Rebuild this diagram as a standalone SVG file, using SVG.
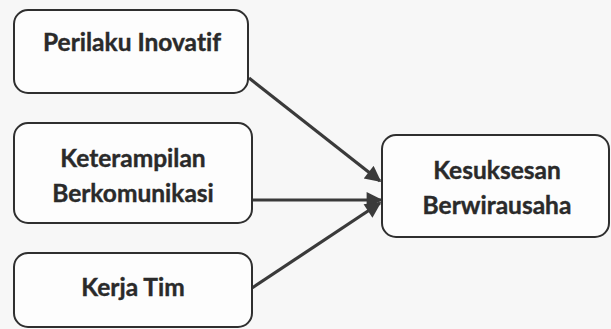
<svg xmlns="http://www.w3.org/2000/svg" width="611" height="329" viewBox="0 0 611 329">
<defs>
<style>
.box{fill:#fdfdfd;stroke:#2f2f2f;stroke-width:2}
.lbl{font-family:Lato,"Open Sans",sans-serif;font-weight:bold;font-size:24.5px;font-variant-ligatures:none;fill:#2a2a2a;stroke:#2a2a2a;stroke-width:0.4;text-anchor:middle}
.edge{stroke:#3a3a3a;stroke-width:3.2;fill:none;marker-end:url(#ah)}
</style>
<marker id="ah" viewBox="0 0 10 10" refX="9" refY="5" markerWidth="5.5" markerHeight="5" markerUnits="strokeWidth" orient="auto">
<path d="M0,0 L10,5 L0,10 Z" fill="#3a3a3a"/>
</marker>
</defs>
<rect width="611" height="329" fill="#f7f7f7"/>
<g id="connectors">
<line class="edge" x1="249" y1="78" x2="380" y2="181"/>
<line class="edge" x1="252" y1="200" x2="381" y2="200"/>
<line class="edge" x1="252" y1="288" x2="380" y2="203"/>
</g>
<g id="perilaku">
<rect class="box" x="14" y="10" width="234" height="83" rx="14"/>
<text class="lbl" x="132" y="51">Perilaku Inovatif</text>
</g>
<g id="keterampilan">
<rect class="box" x="14" y="123" width="238" height="100" rx="14"/>
<text class="lbl" x="133" y="167">Keterampilan</text>
<text class="lbl" x="133" y="202">Berkomunikasi</text>
</g>
<g id="kerja">
<rect class="box" x="14" y="253" width="238" height="74" rx="14"/>
<text class="lbl" x="133" y="296">Kerja Tim</text>
</g>
<g id="kesuksesan">
<rect class="box" x="382" y="135" width="227" height="102" rx="14"/>
<text class="lbl" x="497" y="179">Kesuksesan</text>
<text class="lbl" x="497" y="214">Berwirausaha</text>
</g>
</svg>
